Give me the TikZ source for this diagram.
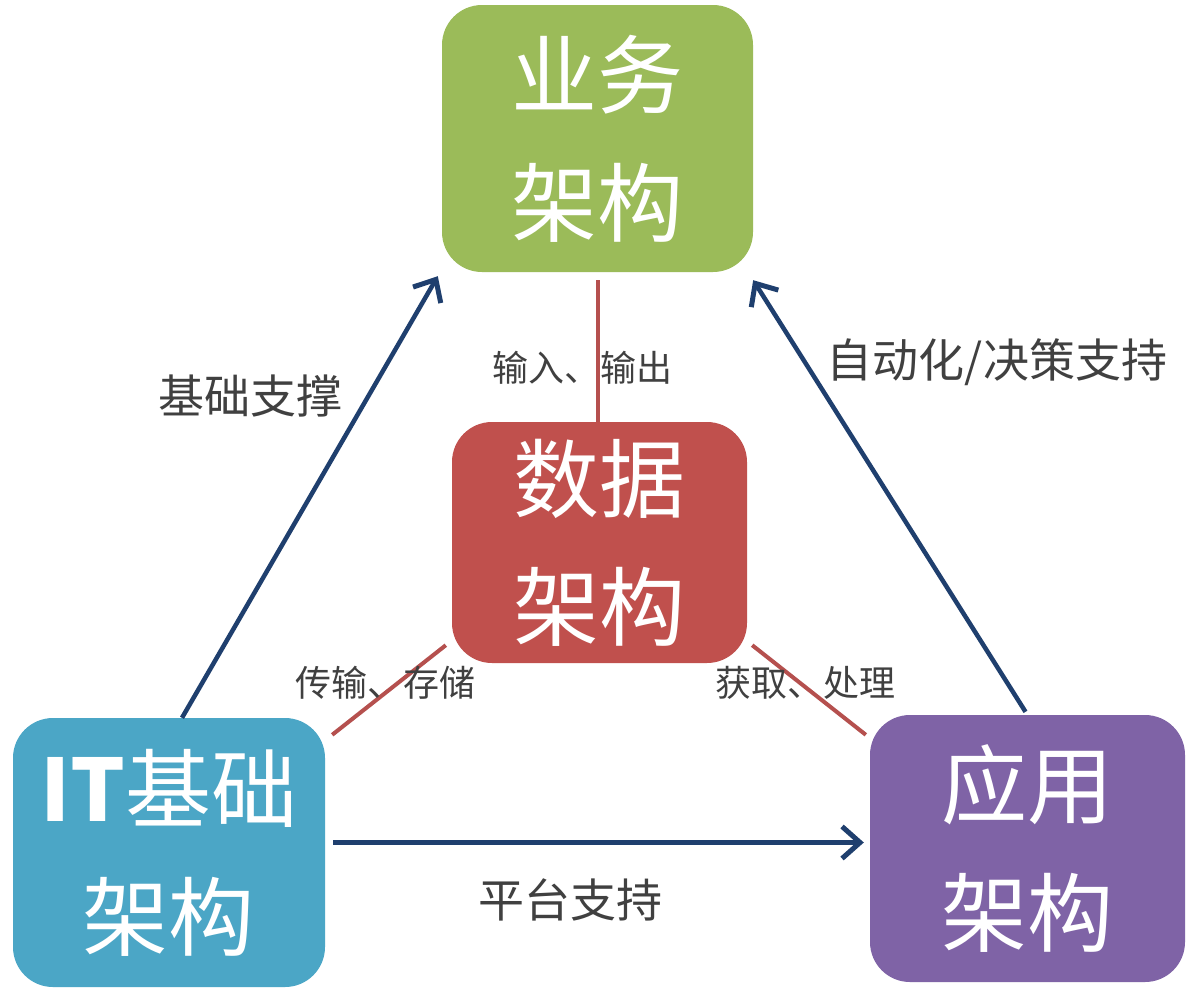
\documentclass[tikz,border=0pt]{standalone}
\usepackage{fontspec}
\setmainfont{Noto Sans CJK SC}
\usetikzlibrary{arrows.meta,calc}
\definecolor{cgreen}{HTML}{9BBB59}
\definecolor{cred}{HTML}{C0504D}
\definecolor{cblue}{HTML}{4BA6C6}
\definecolor{cpurple}{HTML}{7F63A6}
\definecolor{carrow}{HTML}{1F3F6E}
\definecolor{clabel}{HTML}{404040}
\definecolor{cline}{HTML}{B5504E}
\begin{document}
\begin{tikzpicture}[x=1pt,y=-1pt,
  box/.style={rounded corners=40pt, draw=none, text=white, align=center,
    font=\fontsize{86}{128}\selectfont, inner sep=0pt},
  lbl/.style={text=clabel, font=\fontsize{46}{52}\selectfont, inner sep=0pt},
  slbl/.style={text=clabel, font=\fontsize{36}{40}\selectfont, inner sep=0pt},
  conn/.style={draw=carrow, line width=4.5pt, -{Straight Barb[length=18pt,width=32pt,line width=5pt]}},
  rline/.style={draw=cline, line width=4pt}]
\useasboundingbox[fill=white] (0,0) rectangle (1192,994);
\node[box, fill=cgreen, minimum width=311pt, minimum height=267pt] (biz) at (597.5,138.5) {业务\\架构};
\node[box, fill=cred, minimum width=295pt, minimum height=241pt] (data) at (599.5,542.5) {数据\\架构};
\node[box, fill=cblue, minimum width=312pt, minimum height=269pt] (it) at (169,852.5) {{\bfseries IT}基础\\架构};
\node[box, fill=cpurple, minimum width=315pt, minimum height=267pt] (app) at (1027.5,848.5) {应用\\架构};
% red lines
\draw[rline] ($(biz.south)+(0,8)$) -- ($(data.north)+(-2,0)$);
\draw[rline] ($(data.south west)+(-6,-18)$) -- ($(it.north east)+(7,17)$);
\draw[rline] ($(data.south east)+(5,-18)$) -- ($(app.north west)+(-4,20)$);
% arrows
\draw[conn] ($(it.north)+(13,0)$) -- ($(biz.south west)+(-4,4)$);
\draw[conn] ($(app.north)+(-2,-3)$) -- ($(biz.south east)+(0,8)$);
\draw[conn] ($(it.east)+(8,-10)$) -- ($(app.west)+(-6,-6)$);
% labels
\node[lbl] (l1) at (250,396) {基础支撑};
\node[lbl] (l2) at (997,362) {自动化/决策支持};
\node[lbl] (l3) at (570,900) {平台支持};
\node[slbl] (l4) at (582,368) {输入、输出};
\node[slbl] (l5) at (385,683) {传输、存储};
\node[slbl] (l6) at (805,683) {获取、处理};
\end{tikzpicture}
\end{document}
